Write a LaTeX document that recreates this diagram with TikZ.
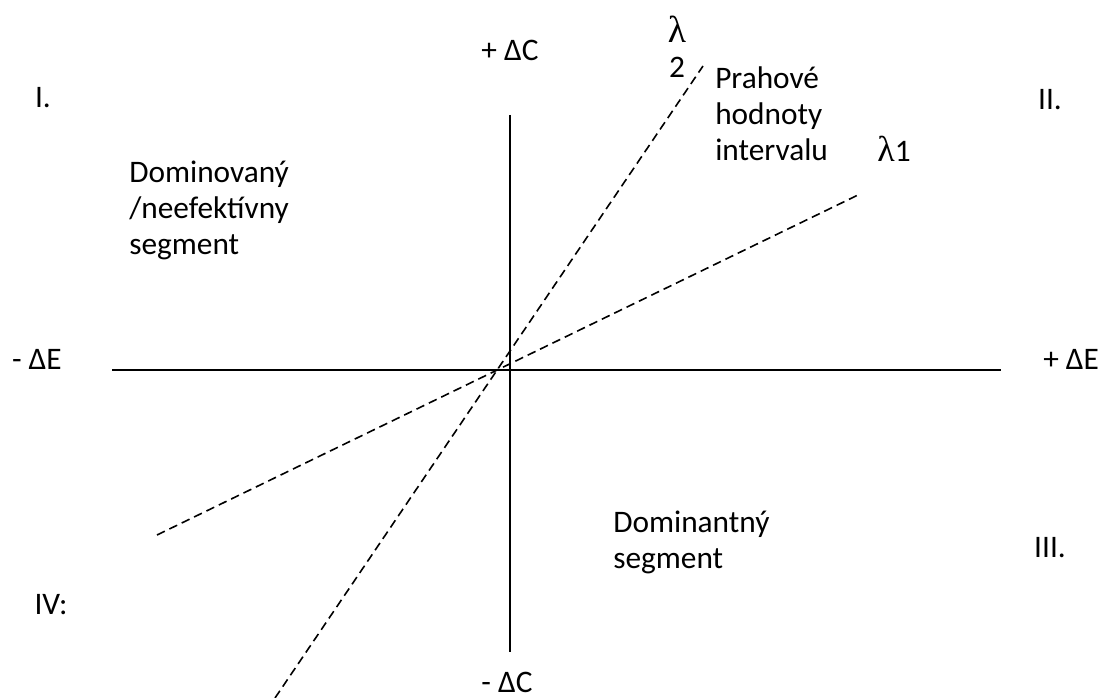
\documentclass[tikz,border=0pt]{standalone}
\usepackage{fontspec}
\setmainfont{Carlito}
\newfontfamily\lamfont{Liberation Serif}
\usetikzlibrary{positioning}

\begin{document}
\begin{tikzpicture}[
    x=0.75pt,y=-0.75pt,
    axis/.style={line width=1.4pt},
    lambdaline/.style={line width=1.2pt,dash pattern=on 6.5pt off 3.8pt},
    txt/.style={font=\fontsize{23.5}{27}\selectfont,inner sep=0pt},
    block/.style={txt,align=left,anchor=north west}]
    \useasboundingbox (0,0) rectangle (1101,698);

    % axes
    \coordinate (hw) at (112,370);
    \coordinate (he) at (1001,370);
    \coordinate (vn) at (510,115);
    \coordinate (vs) at (510,652);
    \draw[axis] (hw) -- (he);
    \draw[axis] (vn) -- (vs);

    % threshold lines
    \coordinate (l1a) at (157,535);
    \coordinate (l1b) at (858,195);
    \coordinate (l2a) at (275,698);
    \coordinate (l2b) at (703,66);
    \draw[lambdaline] (l1a) -- (l1b);
    \draw[lambdaline] (l2a) -- (l2b);

    % axis labels
    \node[txt,yshift=8pt] (mE) [left=37.5pt of hw] {- ΔE};
    \node[txt,yshift=8pt] (pE) [right=31.5pt of he] {+ ΔE};
    \node[txt] (pC) at (510,50) {+ ΔC};
    \node[txt] (mC) at (507,682) {- ΔC};

    % quadrants
    \node[txt] (q1) at (43,98) {I.};
    \node[txt] (q2) at (1050,100) {II.};
    \node[txt] (q3) at (1050,548) {III.};
    \node[txt] (q4) at (51,605) {IV:};

    % segments
    \node[block] (dom) at (129,161) {Dominovaný\\/neefektívny\\segment};
    \node[block] (dnt) at (613,511) {Dominantný\\segment};
    \node[block] (prah) at (715,66) {Prahové\\hodnoty\\intervalu};

    % lambdas
    \node[txt,scale=1.2] (lam2) at (677,29) {\lamfont λ};
    \node[txt] (two) [below=11pt of lam2] {2};
    \node[txt] (lam1) at (894,149) {{\lamfont\fontsize{27}{27}\selectfont λ}1};
\end{tikzpicture}
\end{document}
